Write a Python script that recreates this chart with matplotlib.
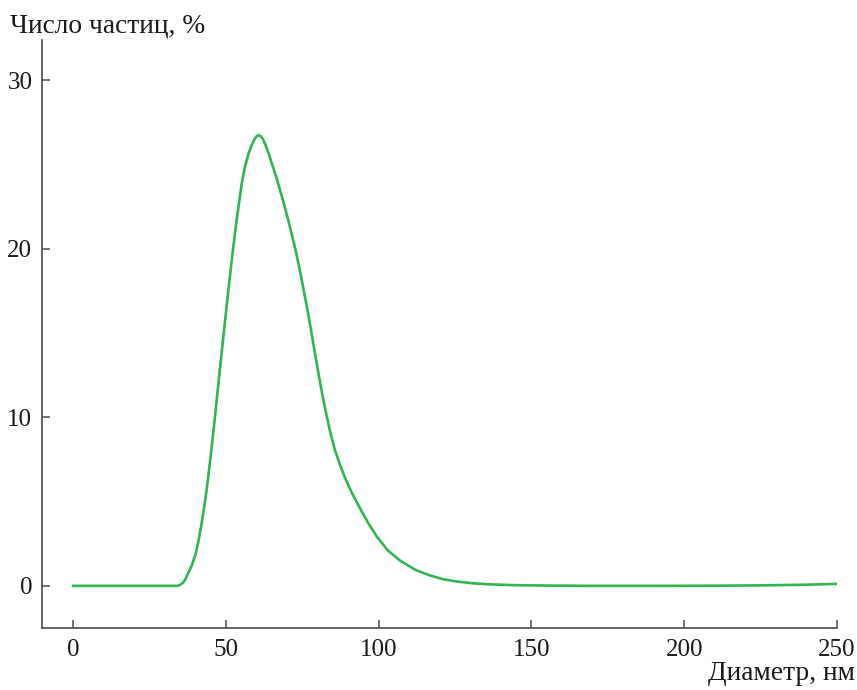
import numpy as np
import matplotlib
matplotlib.use("Agg")
import matplotlib.pyplot as plt

plt.rcParams['font.family'] = ['Liberation Serif', 'DejaVu Serif']

# particle size distribution
diameter = [0, 10, 20, 30, 34, 35, 36, 36.6, 37.5, 38.8, 40, 40.9, 41.9, 42.8, 43.5,
            44.2, 45, 45.8, 46.6, 47.3, 48.2, 49.4, 50.8, 52.1, 53, 53.8, 54.5, 55.1,
            56, 57.3, 58.3, 59.3, 60, 60.6, 61.3, 62, 63, 63.9, 64.8, 65.7, 66.6, 67.7,
            68.5, 69.3, 70.4, 71.5, 72.9, 74, 75.2, 76.5, 77.8, 79, 80.2, 81.5, 83,
            84.3, 85.7, 87.3, 88.9, 91, 93.9, 96.5, 99.3, 103, 107, 112, 116.8, 121,
            125.5, 131, 136.4, 145, 155, 170, 190, 210, 225, 240, 250]
percent = [0, 0, 0, 0, 0, 0.06, 0.2, 0.35, 0.7, 1.2, 1.85, 2.55, 3.55, 4.55, 5.45,
           6.45, 7.7, 9.0, 10.35, 11.6, 13.15, 15.2, 17.55, 19.65, 21.0, 22.1, 23.0, 23.8,
           24.7, 25.6, 26.1, 26.5, 26.68, 26.75, 26.7, 26.55, 26.15, 25.7, 25.2, 24.7,
           24.2, 23.5, 23.0, 22.45, 21.7, 20.9, 19.85, 18.9, 17.8, 16.55, 15.25, 13.95, 12.7,
           11.4, 10.05, 9.0, 8.05, 7.2, 6.45, 5.6, 4.6, 3.75, 2.95, 2.1, 1.5, 0.95, 0.62,
           0.4, 0.26, 0.15, 0.09, 0.04, 0.02, 0, 0, 0.01, 0.03, 0.07, 0.12]
xticks = [0, 50, 100, 150, 200, 250]
yticks = [0, 10, 20, 30]

fig = plt.figure(figsize=(8.57, 6.9), dpi=100)
ax = fig.add_axes([42/857, 1 - 628/690, (837 - 42)/857, (628 - 40)/690])

ax.plot(diameter, percent, color='#2fb650', lw=1.9, solid_joinstyle='round')

ax.set_xlim(-10.2, 250)
ax.set_ylim(-2.5, 32.4)
ax.set_xticks(xticks)
ax.set_yticks(yticks)

spine_c = '#4a4a4a'
for s in ['top', 'right']:
    ax.spines[s].set_visible(False)
for s in ['left', 'bottom']:
    ax.spines[s].set_color(spine_c)
    ax.spines[s].set_linewidth(1.2)
ax.tick_params(direction='in', length=6, width=1.1, color=spine_c,
               labelsize=18, labelcolor='#1a1a1a')
ax.tick_params(axis='y', pad=7)
ax.tick_params(axis='x', pad=8)

fig.text(10/857, 1 - 33/690, 'Число частиц, %', fontsize=19.8, color='#1a1a1a',
         ha='left', va='baseline')
fig.text(855/857, 1 - 680/690, 'Диаметр, нм', fontsize=19.8, color='#1a1a1a',
         ha='right', va='baseline')

fig.savefig('out.png', dpi=100)
